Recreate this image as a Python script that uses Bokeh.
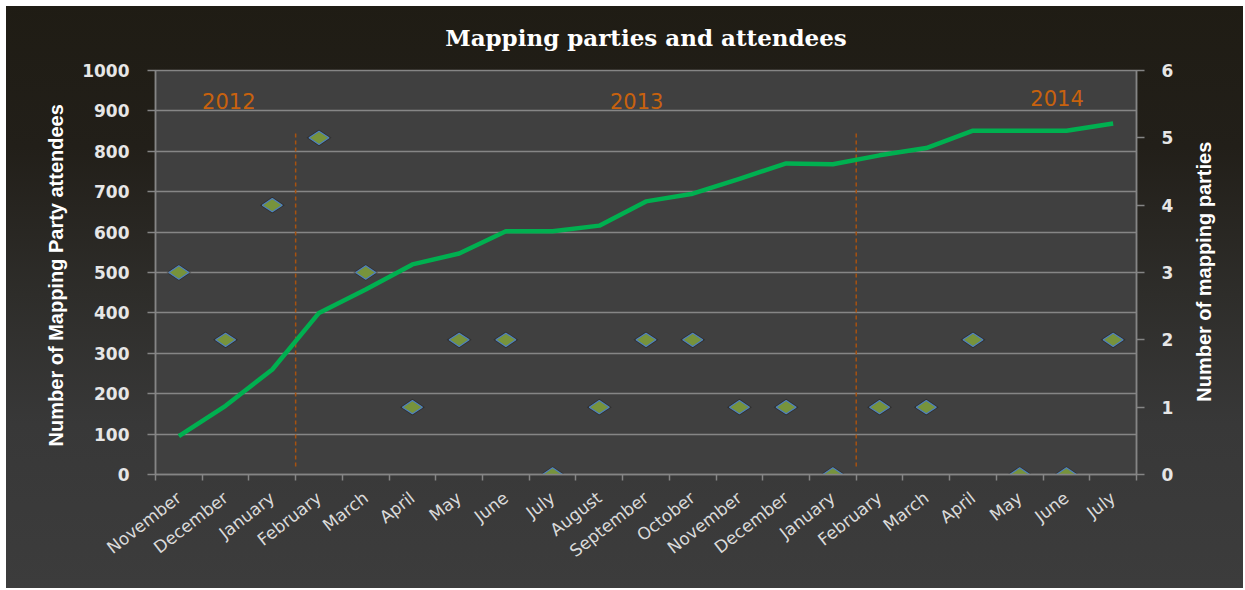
import math
from bokeh.plotting import figure
from bokeh.models import Range1d, LinearAxis, FixedTicker, ColumnDataSource
from bokeh.core.properties import value
from bokeh.embed import file_html
from bokeh.resources import INLINE

# ---------------- data ----------------
months = ["November", "December", "January", "February", "March", "April", "May",
          "June", "July", "August", "September", "October", "November", "December",
          "January", "February", "March", "April", "May", "June", "July"]
attendees = [95, 170, 260, 400, 458, 520, 547, 602, 602, 616, 676, 695, 732, 770,
             768, 790, 808, 851, 851, 851, 869]
parties = [3, 2, 4, 5, 3, 1, 2, 2, 0, 1, 2, 2, 1, 1, 0, 1, 1, 2, 0, 0, 2]
years = ["2012", "2013", "2014"]
left_ticks = list(range(0, 1001, 100))
right_ticks = list(range(0, 7))

# ---------------- layout / styles ----------------
year_label_x = [1.57, 10.3, 19.3]
year_label_y = [925, 925, 932]
divider_y = (20, 850)
right_title_start = 1.08   # where the bottom-to-top right axis title begins

n = len(months)
centers = [i + 0.5 for i in range(n)]
bounds = list(range(n + 1))
dividers = [i for i, m in enumerate(months) if m == "February"]

W, H = 1243, 588
p = figure(width=W, height=H, output_backend="svg", toolbar_location=None,
           x_range=Range1d(0, n), y_range=Range1d(0, 1000),
           min_border_left=155, min_border_right=W - 1136, min_border_top=70,
           min_border_bottom=H - 474, x_axis_location=None, y_axis_location=None)
p.extra_y_ranges = {"parties": Range1d(0, 6)}

p.background_fill_color = "#404040"
p.border_fill_alpha = 0
p.outline_line_color = "#858585"
p.outline_line_width = 1.5
p.styles = {"background":
            "linear-gradient(#ffffff, #ffffff) top left / 100% 6px no-repeat, "
            "linear-gradient(#ffffff, #ffffff) top left / 6px 100% no-repeat, "
            "linear-gradient(to bottom, #1f1c14 0%, #221f19 25%, "
            "#2e2d2a 50%, #383838 72%, #3c3c3c 100%)"}

# title
p.title.text = "Mapping parties and attendees"
p.title.text_font = "DejaVu Serif"
p.title.text_font_style = "bold"
p.title.text_font_size = "23px"
p.title.text_color = "#ffffff"
p.title.align = "center"
p.title.standoff = 40

# grid
p.xgrid.visible = False
p.ygrid.ticker = FixedTicker(ticks=left_ticks)
p.ygrid.grid_line_color = "#868686"
p.ygrid.grid_line_width = 1.5

tick_color = "#858585"
label_font = "Liberation Sans"

# left axis
yl = LinearAxis(ticker=FixedTicker(ticks=left_ticks),
                axis_label="Number of Mapping Party  attendees")
# right axis
yr = LinearAxis(y_range_name="parties", ticker=FixedTicker(ticks=right_ticks))
for ax in (yl, yr):
    ax.axis_line_color = tick_color
    ax.axis_line_width = 1.5
    ax.major_tick_line_color = tick_color
    ax.major_tick_line_width = 1.5
    ax.major_tick_out = 8
    ax.major_tick_in = 0
    ax.minor_tick_line_color = None
    ax.major_label_text_color = "#e6e6e6"
    ax.major_label_text_font = "DejaVu Sans"
    ax.major_label_text_font_style = "bold"
    ax.major_label_text_font_size = "17px"
yl.axis_label_text_color = "#ffffff"
yl.axis_label_text_font = label_font
yl.axis_label_text_font_style = "bold"
yl.axis_label_text_font_size = "20px"
yl.major_label_standoff = 18
yl.axis_label_standoff = 12
yr.major_label_standoff = 17
p.add_layout(yl, "left")
p.add_layout(yr, "right")

# right axis title (bottom-to-top), drawn as the single label of a bare axis
yt = LinearAxis(y_range_name="parties",
                ticker=FixedTicker(ticks=[right_title_start]))
yt.major_label_overrides = {right_title_start: "Number of mapping parties"}
yt.major_label_orientation = math.pi / 2
yt.axis_line_color = None
yt.major_tick_line_color = None
yt.minor_tick_line_color = None
yt.major_label_standoff = 22
yt.major_label_text_color = "#ffffff"
yt.major_label_text_font = label_font
yt.major_label_text_font_style = "bold"
yt.major_label_text_font_size = "20px"
p.add_layout(yt, "right")

# bottom axis: labels at centers, tick marks at boundaries
xb = LinearAxis(ticker=FixedTicker(ticks=centers, minor_ticks=bounds))
xb.major_label_overrides = {c: m for c, m in zip(centers, months)}
xb.major_label_orientation = 0.66
xb.major_tick_out = 0
xb.major_tick_in = 0
xb.minor_tick_out = 6
xb.minor_tick_in = 0
xb.minor_tick_line_color = tick_color
xb.minor_tick_line_width = 1.5
xb.axis_line_color = tick_color
xb.axis_line_width = 1.5
xb.major_label_standoff = 15
xb.major_label_text_color = "#dadada"
xb.major_label_text_font = "DejaVu Sans"
xb.major_label_text_font_size = "17px"
p.add_layout(xb, "below")

# year dividers
p.segment(x0=dividers, x1=dividers, y0=[divider_y[0]] * len(dividers),
          y1=[divider_y[1]] * len(dividers), line_color="#a8520f",
          line_width=1.5, line_dash="4 3")

# year labels
p.text(x=year_label_x, y=year_label_y, text=years, text_color="#c8620e",
       text_font=value("DejaVu Sans"), text_font_size="21px",
       text_align="center", text_baseline="middle")

# cumulative attendees line
p.line(x=centers, y=attendees, line_color="#00b050", line_width=4.5,
       line_join="round")

# parties markers (with soft shadow)
src = ColumnDataSource(dict(x=centers, y=parties))
p.scatter("x", "y", source=src, y_range_name="parties", marker="diamond",
          angle=math.pi / 2, size=25, fill_color="#000000", fill_alpha=0.25,
          line_color=None)
p.scatter("x", "y", source=src, y_range_name="parties", marker="diamond",
          angle=math.pi / 2, size=20, fill_color="#77933c",
          line_color="#4f81bd", line_width=1.2)

open("out.html", "w").write(file_html(p, INLINE))
